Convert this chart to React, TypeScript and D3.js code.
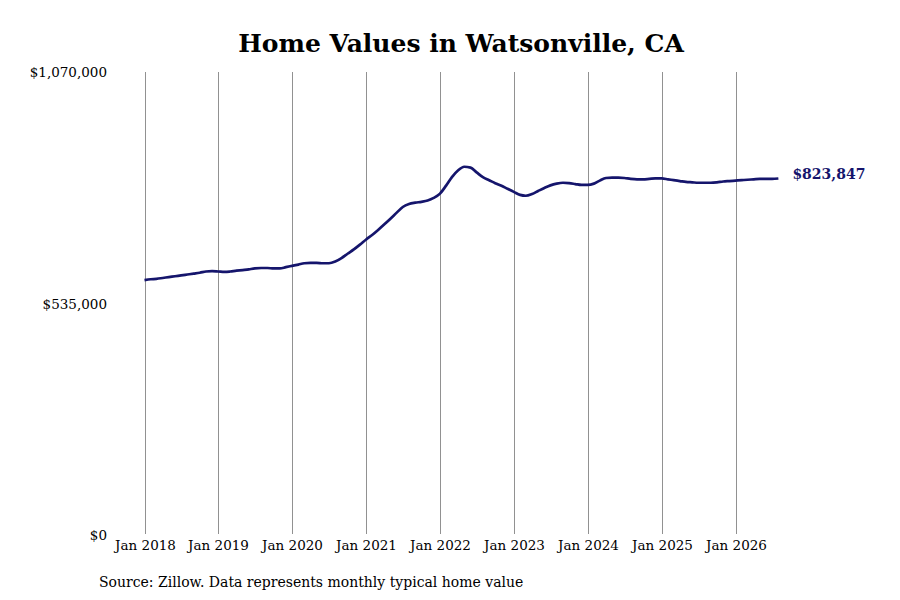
import React from "react";
import * as d3 from "d3";

const startYear = 2018;
const tickYears = [2018, 2019, 2020, 2021, 2022, 2023, 2024, 2025, 2026];
const yTicks = [0, 535000, 1070000];
const yTickLabels = ["$0", "$535,000", "$1,070,000"];
// monthly typical home values (thousands), Jan 2018 onward
const values = [
  589, 591, 592, 594, 596, 598, 600, 602, 604, 606, 609, 610,
  609, 608, 609, 611, 612, 614, 616, 617, 617, 616, 616, 619,
  622, 625, 628, 629, 629, 628, 628, 632, 640, 650, 660, 671,
  683, 694, 705, 718, 731, 745, 758, 765, 768, 770, 773, 779,
  789, 808, 827, 843, 851, 849, 838, 827, 820, 813, 807, 800,
  793, 786, 784, 788, 795, 802, 808, 812, 814, 813, 811, 809,
  809, 812, 819, 825, 826, 826, 825, 823, 822, 822, 823, 824,
  824, 822, 820, 818, 816, 815, 814, 814, 814, 815, 817, 818,
  819, 820, 821, 822, 823, 823, 823, 823.847,
];
const lastLabel = "$823,847";
const title = "Home Values in Watsonville, CA";
const source = "Source: Zillow. Data represents monthly typical home value";

const W = 900;
const H = 600;

export default function App() {
  const x = d3
    .scaleTime()
    .domain([new Date(2018, 0, 1), new Date(2026, 0, 1)])
    .range([144.5, 735.5]);
  const y = d3.scaleLinear().domain([0, 1070000]).range([535, 72]);
  const data = values.map((v, i) => ({ date: new Date(startYear, i, 1), value: v * 1000 }));
  const line = d3
    .line<{ date: Date; value: number }>()
    .x((d) => x(d.date))
    .y((d) => y(d.value))
    .curve(d3.curveMonotoneX);
  const last = data[data.length - 1];
  const font = "'DejaVu Serif', serif";
  const navy = "#15156c";
  return (
    <svg
      width={W}
      height={H}
      style={{ position: "absolute", left: 0, top: 0, background: "#fff" }}
      fontFamily={font}
    >
      <rect width={W} height={H} fill="#fff" />
      <text x={461} y={52} textAnchor="middle" fontSize={25} fontWeight="bold" fill="#000">
        {title}
      </text>
      {tickYears.map((yr) => {
        const xx = Math.round(x(new Date(yr, 0, 1))) + 0.5;
        return (
          <g key={yr}>
            <line x1={xx} x2={xx} y1={72} y2={534} stroke="#919191" strokeWidth={1} />
            <text x={xx} y={550} textAnchor="middle" fontSize={13.5} fill="#000">
              {`Jan ${yr}`}
            </text>
          </g>
        );
      })}
      {yTicks.map((t, i) => (
        <text key={t} x={107} y={y(t) + 5} textAnchor="end" fontSize={13.5} fill="#000">
          {yTickLabels[i]}
        </text>
      ))}
      <path d={line(data) || ""} fill="none" stroke={navy} strokeWidth={2.7} />
      <text x={x(last.date) + 14} y={y(last.value) + 0} fontSize={14} fontWeight="bold" fill={navy}>
        {lastLabel}
      </text>
      <text x={99} y={587} fontSize={14} fill="#000">
        {source}
      </text>
    </svg>
  );
}
